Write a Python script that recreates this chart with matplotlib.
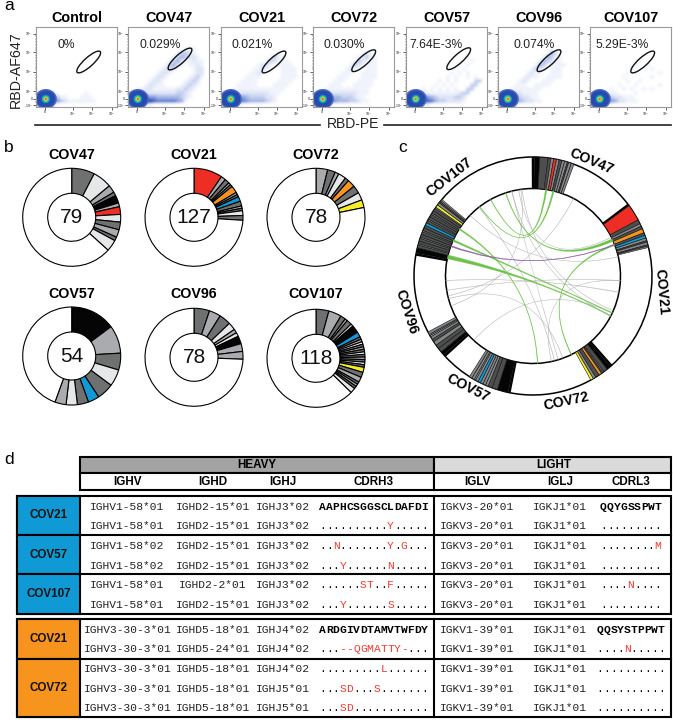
import numpy as np
import matplotlib
matplotlib.use('Agg')
import matplotlib.pyplot as plt
from matplotlib.colors import LinearSegmentedColormap
from matplotlib.patches import Ellipse, Wedge, Rectangle, PathPatch
from matplotlib.path import Path

plt.rcParams['font.family'] = ['Liberation Sans', 'DejaVu Sans']

W, H = 673, 720

# colours
D = '#6f7170'
M = '#a9abae'
L = '#e6e7e8'
K = '#050505'
R = '#ee2e24'
O = '#f7941d'
B = '#0f9ad6'
Y = '#f5ec2a'
T = '#ffffff'
# the ring stripes are darker than the donut wedges
RD = '#4d4e4e'
RM = '#858688'

# ---------- panel a data
flow_names = ['Control', 'COV47', 'COV21', 'COV72', 'COV57', 'COV96', 'COV107']
flow_pct = ['0%', '0.029%', '0.021%', '0.030%', '7.64E-3%', '0.074%', '5.29E-3%']
flow_left = [36, 128, 221, 313, 406, 498, 590]
flow_pct_x = [21, 11.7, 11, 10.7, 3, 15.7, 5]
flow_gate_x = [52.7, 52, 53, 50.7, 52.7, 51, 52.7]
flow_gate_y = [35, 32, 35, 33.7, 31.7, 33.7, 35]
flow_xticks = [9, 37, 56, 76]
flow_xlabels = ['0', '10$^3$', '10$^4$', '10$^5$']
flow_yticks = [6.7, 25, 44.7, 64, 72, 78]
flow_ylabels = ['10$^5$', '10$^4$', '10$^3$', '10$^2$', '0', '-10$^2$']
flow_xminor = [1, 3, 5, 7, 8, 10, 12, 14, 24, 30, 33, 35, 43, 49, 52, 54, 63, 69, 72, 74]
flow_yminor = [9, 12, 15, 18, 21, 23, 28, 31, 34, 37, 40, 42, 48, 51, 54, 57, 60, 62, 67, 75]

# density, 4 px cells, last row is the bottom of the box
density_control = [
    "00000000000000000000",
    "00000000000000000000",
    "22211000000010000000",
    "66654311000111000000",
    "88876532111111100000",
    "22211000000000000000",
]
density_47 = [
    "00000000000000111000",
    "00000000000013321000",
    "00000000000134322100",
    "00000000001342112110",
    "00000000013421011210",
    "00000000123200001220",
    "00000001221000001220",
    "00000012210000012310",
    "00000122100000123200",
    "00001221100001232100",
    "00112211111122321000",
    "22222222222233210000",
    "77776554444443210000",
    "99998876666654100000",
    "33221100000000000000",
]
density_21 = [
    "00000000000000100000",
    "00000000000013110000",
    "00000000000132111000",
    "00000000012210111100",
    "00000000112100011110",
    "00000001121000011110",
    "00000011110000011110",
    "00000111100000111100",
    "00001111100001111000",
    "00011111111111110000",
    "22222222222211100000",
    "77765543333221000000",
    "99887654444321000000",
    "33211000000000000000",
]
density_72 = [
    "00000000000012100000",
    "00000000000123110000",
    "00000000001321110000",
    "00000000013211110000",
    "00000000121101110000",
    "00000001110011110000",
    "00000011100011110000",
    "00000111000111100000",
    "00001110001111100000",
    "00011111111111000000",
    "22222222222111000000",
    "77655443332110000000",
    "99876544433211000000",
    "33211000000000000000",
]
density_57 = [
    "00000000000000010000",
    "00000000000000101000",
    "00000000000001010000",
    "00000000000010100000",
    "00000000000101010000",
    "00000000001010010100",
    "00000000101010000330",
    "00000001010100003300",
    "00001010101010033000",
    "33322111111112330000",
    "88887543222233200000",
    "99998764332222100000",
    "44331100000000000000",
]
density_96 = [
    "00000000000001000000",
    "00000000000014200000",
    "00000000000143110000",
    "00000000001432110000",
    "00000000014311111000",
    "00000000132101110000",
    "00000001211001110000",
    "00000012110011110000",
    "00000121000111000000",
    "00001110011110000000",
    "00011111111000000000",
    "22222211110000000000",
    "77654322110000000000",
    "99865432211000000000",
    "33211000000000000000",
]
density_107 = [
    "00000000000010000000",
    "00000000000100100000",
    "00000000001000010000",
    "00000000010100000100",
    "00000000100000010000",
    "00000000010010000000",
    "00000001000100000100",
    "00000100101001010000",
    "22211110000100000000",
    "77654322111000000000",
    "99876542211100000000",
    "33211000000000000000",
]
flow_density = [density_control, density_47, density_21, density_72, density_57, density_96, density_107]

# rainbow core of the big negative population, outside to centre
blob_rx = [11, 9.5, 6.5, 4.2, 3.2, 2.3, 1.5, 0.9]
blob_ry = [10, 8.5, 6.2, 4.2, 3.2, 2.3, 1.5, 0.9]
blob_colors = ['#4a69c4', '#2a4aac', '#1f4fb0', '#1f8fd0', '#35c8a0', '#8fd648', '#f6df2a', '#ea3323']

# ---------- panel b data
pie_names = ['COV47', 'COV21', 'COV72', 'COV57', 'COV96', 'COV107']
pie_totals = [79, 127, 78, 54, 78, 118]
pie_x = [71.7, 194, 316, 71.7, 194, 316]
pie_y = [217.3, 217.3, 217.3, 356, 357.3, 358.3]
pie_title_y = [155, 155, 155, 294, 294, 294]

clones_47 = [6, 5, 2, 1, 2, 1, 2, 2, 2, 2, 1, 3]
colors_47 = [D, L, M, D, K, M, R, L, D, M, D, L]
clones_21 = [12, 2, 2, 1, 1, 3, 1, 1, 2, 2, 1, 1, 2, 2]
colors_21 = [R, M, D, M, D, O, M, D, B, D, M, D, L, D]
clones_72 = [3, 2, 1, 2, 1, 2, 2, 2, 2]
colors_72 = [M, D, M, L, D, O, D, L, Y]
clones_57 = [8, 5, 3, 3, 3, 2, 2, 2, 2]
colors_57 = [K, M, D, L, D, B, D, L, M]
clones_96 = [4, 3, 3, 2, 1, 1, 2, 2, 2]
colors_96 = [D, M, D, L, M, L, K, M, M]
clones_107 = [5, 5, 2, 1, 2, 1, 3, 2, 1, 1, 1, 1, 1, 1, 1, 1, 1, 1, 1, 1, 2, 2, 2, 1, 1, 1, 2]
colors_107 = [D, M, D, M, D, L, K, B, D, M, L, D, M, D, L, D, M, D, L, D, Y, D, M, D, M, D, L]
pie_clones = [clones_47, clones_21, clones_72, clones_57, clones_96, clones_107]
pie_colors = [colors_47, colors_21, colors_72, colors_57, colors_96, colors_107]

# ---------- panel c data, same donors going clockwise from the top
ring_names = ['COV47', 'COV21', 'COV72', 'COV57', 'COV96', 'COV107']
ring_totals = [79, 127, 78, 54, 78, 118]
ring_clones = [
    [4, 6, 2, 2, 2, 2, 2, 2, 2, 1, 2, 2],
    [12, 3, 2, 2, 3, 2, 2, 2, 1, 2, 1, 1],
    [3, 3, 1, 1, 2, 3, 2, 2],
    [8, 4, 3, 2, 2, 2, 2, 2, 1, 2, 2],
    [3, 3, 3, 3, 2, 2, 1, 1, 2],
    [4, 2, 1, 2, 2, 1, 2, 2, 1, 2, 2, 2, 2, 1, 2, 2, 1, 2, 2, 1, 2, 2, 1, 1, 1],
]
ring_colors = [
    [K, RD, RD, RM, R, RM, RD, RM, RM, RD, RM, RM],
    [R, RD, RM, RD, O, RD, B, RM, RD, RM, RD, RM],
    [K, RD, RM, RD, O, RD, RM, Y],
    [K, RD, RD, RM, RM, RM, B, RM, M, RM, RM],
    [K, RD, RD, RM, RD, RM, M, RM, RM],
    [K, RD, RM, RD, RD, RM, RD, RD, RM, RD, RD, B, RD, RM, RD, RD, RM, RD, RD, RM, Y, RM, RD, RM, M],
]
ring_label_x = [591.7, 661.7, 566.7, 468, 406.7, 449]
ring_label_y = [161.7, 291.7, 401.7, 388, 311.7, 176.7]
ring_label_rot = [-23, -85, 12, -27, -72, 38]

# chords: angle 1, width 1, angle 2, width 2 (degrees clockwise from the top)
green_chords = [
    (282.6, 2.6, 117.0, 0.5),
    (294.0, 1.2, 115.0, 0.5),
    (302.5, 0.9, 177.0, 0.4),
    (331.0, 0.4, 8.7, 1.0),
    (322.4, 0.4, 13.5, 1.0),
    (341.8, 0.5, 65.7, 1.8),
    (69.0, 1.0, 154.0, 0.5),
]
purple_chords = [(290.0, 0.8, 69.0, 0.5)]
gray_chords = [
    (352.8, 0.3, 113.5, 0.3),
    (345.9, 0.3, 117.5, 0.3),
    (27.7, 0.3, 256.8, 0.3),
    (350.5, 0.3, 63.7, 0.3),
    (314.0, 0.3, 77.3, 0.3),
    (267.0, 0.3, 100.8, 0.5),
    (260.5, 0.3, 93.0, 0.3),
    (250.0, 0.3, 352.0, 0.3),
    (222.7, 0.3, 115.0, 0.3),
    (321.9, 0.3, 165.7, 0.3),
    (167.9, 0.3, 93.0, 0.3),
    (163.2, 0.3, 346.0, 0.3),
    (255.0, 0.3, 160.0, 0.3),
]

# ---------- panel d data
heavy_cols = ['IGHV', 'IGHD', 'IGHJ', 'CDRH3']
light_cols = ['IGLV', 'IGLJ', 'CDRL3']
col_x = [127.3, 212.7, 283, 373.5, 477.3, 560, 630.7]
row_y_top = [507, 526.3, 546, 565.7, 585.3, 605]
row_y_bot = [629.7, 649.3, 669.3, 688.7, 708.3]

ighv_top = ['IGHV1-58*01', 'IGHV1-58*01', 'IGHV1-58*02', 'IGHV1-58*02', 'IGHV1-58*01', 'IGHV1-58*01']
ighd_top = ['IGHD2-15*01', 'IGHD2-15*01', 'IGHD2-15*01', 'IGHD2-15*01', 'IGHD2-2*01', 'IGHD2-15*01']
ighj_top = ['IGHJ3*02'] * 6
cdrh3_top = ['AAPHCSGGSCLDAFDI', '..........Y.....', '..N.......Y.G...',
             '...Y......N.....', '......ST..F.....', '...Y......S.....']
iglv_top = ['IGKV3-20*01'] * 6
iglj_top = ['IGKJ1*01'] * 6
cdrl3_top = ['QQYGSSPWT', '.........', '........M', '.........', '....N....', '.........']

ighv_bot = ['IGHV3-30-3*01'] * 5
ighd_bot = ['IGHD5-18*01', 'IGHD5-24*01', 'IGHD5-18*01', 'IGHD5-18*01', 'IGHD5-18*01']
ighj_bot = ['IGHJ4*02', 'IGHJ4*02', 'IGHJ4*02', 'IGHJ5*01', 'IGHJ5*01']
cdrh3_bot = ['ARDGIVDTAMVTWFDY', '...--QGMATTY-...', '.........L......',
             '...SD...S.......', '...SD...........']
iglv_bot = ['IGKV1-39*01'] * 5
iglj_bot = ['IGKJ1*01'] * 5
cdrl3_bot = ['QQSYSTPPWT', '....N.....', '..........', '..........', '..........']


def px_axes(x, y, w, h, **kw):
    return fig.add_axes([x / W, 1 - (y + h) / H, w / W, h / H], **kw)


fig = plt.figure(figsize=(W / 100, H / 100), dpi=100)

over = px_axes(0, 0, W, H)
over.set_xlim(0, W)
over.set_ylim(H, 0)
over.axis('off')
over.set_zorder(5)

for letter, lx, ly in [('a', 4, 6), ('b', 4, 147), ('c', 398, 148), ('d', 4, 460)]:
    over.text(lx, ly, letter, fontsize=12.5, ha='left', va='center')

# ---------- panel a
flow_cmap = LinearSegmentedColormap.from_list(
    'flow', [(0, '#ffffff'), (0.11, '#f0f3fb'), (0.22, '#dfe5f6'), (0.33, '#c6d1ef'),
             (0.55, '#8ea3df'), (0.77, '#4c6bc6'), (1, '#2747a8')])

for i, name in enumerate(flow_names):
    ax = px_axes(flow_left[i], 27, 81, 80)
    rows = flow_density[i]
    grid = np.zeros((20, 20))
    for r, row in enumerate(rows):
        grid[20 - len(rows) + r] = [int(c) for c in row]
    ax.imshow(grid, cmap=flow_cmap, vmin=0, vmax=9, extent=(0, 80, 80, 0),
              interpolation='bilinear', aspect='auto')
    for rx, ry, col in zip(blob_rx, blob_ry, blob_colors):
        ax.add_patch(Ellipse((9.8, 72), 2 * rx, 2 * ry, facecolor=col, edgecolor='none'))
    ax.add_patch(Ellipse((flow_gate_x[i], flow_gate_y[i]), 31, 9, angle=-42,
                         facecolor='none', edgecolor='#111111', lw=1.0))
    ax.set_xlim(0, 81)
    ax.set_ylim(80, 0)
    ax.set_xticks(flow_xticks)
    ax.set_xticklabels(flow_xlabels, fontsize=2.5)
    ax.set_yticks(flow_yticks)
    ax.set_yticklabels(flow_ylabels, fontsize=2.5)
    ax.set_xticks(flow_xminor, minor=True)
    ax.set_yticks(flow_yminor, minor=True)
    ax.tick_params(length=2, width=0.5, pad=0.5, colors='#222222')
    ax.tick_params(which='minor', length=1, width=0.3, colors='#222222')
    for s in ax.spines.values():
        s.set_color('#9a9a9a')
        s.set_linewidth(0.8)
    over.text(flow_left[i] + 40.5, 18, name, fontsize=10.4, fontweight='bold', ha='center', va='center')
    over.text(flow_left[i] + flow_pct_x[i], 45, flow_pct[i], fontsize=8.7, color='#222222', ha='left', va='center')

over.text(16, 70, 'RBD-AF647', fontsize=10.3, rotation=90, ha='center', va='center', color='#222222')
over.text(353, 124.5, 'RBD-PE', fontsize=10, ha='center', va='center', color='#222222')
over.plot([35, 320], [125, 125], color='#222222', lw=1.2)
over.plot([384, 671], [125, 125], color='#222222', lw=1.2)

# ---------- panel b
for i, name in enumerate(pie_names):
    r = 49
    ax = px_axes(pie_x[i] - r - 2, pie_y[i] - r - 2, 2 * r + 4, 2 * r + 4)
    vals = pie_clones[i] + [pie_totals[i] - sum(pie_clones[i])]
    cols = pie_colors[i] + [T]
    ax.pie(vals, colors=cols, startangle=90, counterclock=False, radius=1,
           wedgeprops=dict(width=0.51, edgecolor='black', linewidth=0.8))
    ax.set_xlim(-(r + 2) / r, (r + 2) / r)
    ax.set_ylim(-(r + 2) / r, (r + 2) / r)
    over.text(pie_x[i], pie_title_y[i], name, fontsize=10.3, fontweight='bold', ha='center', va='center')
    over.text(pie_x[i], pie_y[i] + 0.5, str(pie_totals[i]), fontsize=15, ha='center', va='center', color='#111111')

# ---------- panel c
ring = px_axes(533 - 123, 276 - 123, 246, 246)
ring.set_xlim(-123, 123)
ring.set_ylim(-123, 123)
ring.axis('off')
r_in, r_out = 87.5, 119
deg_per_seq = 360 / sum(ring_totals)


def wedge_between(a1, a2, **kw):
    # a1, a2 clockwise from the top
    return Wedge((0, 0), r_out, 90 - a2, 90 - a1, width=r_out - r_in, **kw)


start = 0.0
for i, name in enumerate(ring_names):
    end = start + ring_totals[i] * deg_per_seq
    ring.add_patch(wedge_between(start + 0.25, end - 0.25, facecolor='white', edgecolor='black', lw=1.1, zorder=2))
    a = start + 0.6
    for n, col in zip(ring_clones[i], ring_colors[i]):
        b = a + n * deg_per_seq
        ring.add_patch(wedge_between(a, b, facecolor=col, edgecolor='#111111', lw=0.4, zorder=3))
        a = b
    over.text(ring_label_x[i], ring_label_y[i], name, fontsize=10.2, fontweight='bold',
              rotation=ring_label_rot[i], rotation_mode='anchor', ha='center', va='center')
    start = end


def chord_point(angle):
    t = np.deg2rad(angle)
    return (r_in * np.sin(t), r_in * np.cos(t))


def chord_patch(a1, w1, a2, w2, color, alpha=1.0, z=4):
    verts = [chord_point(a1 - w1 / 2), (0, 0), chord_point(a2 + w2 / 2),
             chord_point(a2 - w2 / 2), (0, 0), chord_point(a1 + w1 / 2), chord_point(a1 - w1 / 2)]
    codes = [Path.MOVETO, Path.CURVE3, Path.CURVE3, Path.LINETO, Path.CURVE3, Path.CURVE3, Path.CLOSEPOLY]
    return PathPatch(Path(verts, codes), facecolor=color, edgecolor=color, lw=0.2, alpha=alpha, zorder=z)


for c in gray_chords:
    ring.add_patch(chord_patch(*c, '#a8a8a8', alpha=0.6, z=4))
for c in green_chords:
    ring.add_patch(chord_patch(*c, '#6cc24a', z=5))
for c in purple_chords:
    ring.add_patch(chord_patch(*c, '#8e5aa8', z=6))

# ---------- panel d
edge = dict(edgecolor='black', lw=1.5)
over.add_patch(Rectangle((80, 457), 353.7, 16, facecolor='#a3a3a3', **edge))
over.add_patch(Rectangle((433.7, 457), 237, 16, facecolor='#dadada', **edge))
over.add_patch(Rectangle((80, 473), 353.7, 17, facecolor='white', **edge))
over.add_patch(Rectangle((433.7, 473), 237, 17, facecolor='white', **edge))
over.text(257, 465.5, 'HEAVY', fontsize=8.4, fontweight='bold', ha='center', va='center')
over.text(553.7, 465.5, 'LIGHT', fontsize=8.4, fontweight='bold', ha='center', va='center')
for name, x in zip(heavy_cols + light_cols, col_x):
    over.text(x, 481.7, name, fontsize=8.4, fontweight='bold', ha='center', va='center')

# two blocks of the table
over.add_patch(Rectangle((17, 496), 654, 118, facecolor='white', **edge))
over.add_patch(Rectangle((17, 619), 654, 98, facecolor='white', **edge))
for y0, y1, col, name in [(496, 535, B, 'COV21'), (535, 574.3, B, 'COV57'), (574.3, 614, B, 'COV107'),
                          (619, 659, O, 'COV21'), (659, 717, O, 'COV72')]:
    over.add_patch(Rectangle((17, y0), 63, y1 - y0, facecolor=col, **edge))
    over.text(49, (y0 + y1) / 2, name, fontsize=8.4, fontweight='bold', ha='center', va='center', color='#111111')
for y in [535, 574.3]:
    over.plot([80, 671], [y, y], color='black', lw=1.5)
over.plot([80, 671], [659, 659], color='black', lw=1.5)
over.plot([433.7, 433.7], [496, 614], color='black', lw=1.5)
over.plot([433.7, 433.7], [619, 717], color='black', lw=1.5)

char_w = 6.8
mono = 'Liberation Mono'


def seq_text(x_mid, y, seq, first):
    # one character at a time so that changed residues can be red
    x0 = x_mid - len(seq) * char_w / 2
    for j, ch in enumerate(seq):
        col = 'black' if first or ch == '.' else '#ef3b36'
        over.text(x0 + (j + 0.5) * char_w, y, ch, family=mono, fontsize=8.1, color=col,
                  fontweight='bold' if first else 'normal', ha='center', va='center')


def fill_rows(ys, cols):
    for k, y in enumerate(ys):
        for c in [0, 1, 2, 4, 5]:
            over.text(col_x[c], y, cols[c][k], family=mono, fontsize=8.1, color='#222222', ha='center', va='center')
        seq_text(col_x[3], y, cols[3][k], k == 0)
        seq_text(col_x[6], y, cols[6][k], k == 0)


fill_rows(row_y_top, [ighv_top, ighd_top, ighj_top, cdrh3_top, iglv_top, iglj_top, cdrl3_top])
fill_rows(row_y_bot, [ighv_bot, ighd_bot, ighj_bot, cdrh3_bot, iglv_bot, iglj_bot, cdrl3_bot])

fig.savefig('out.png', dpi=100)
